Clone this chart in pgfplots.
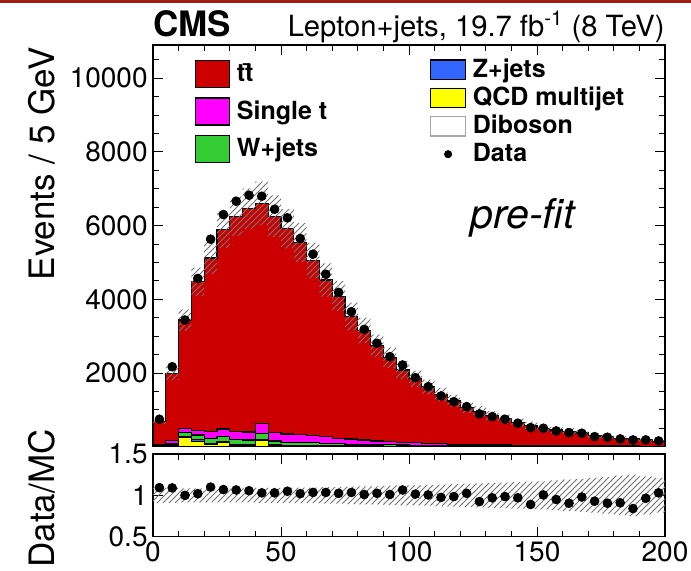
\documentclass[border=0pt]{standalone}
\usepackage{fontspec}
\setmainfont{TeX Gyre Heros}
\usepackage{pgfplots}
\pgfplotsset{compat=1.18}
\usepackage{pgfplotstable}
\usetikzlibrary{patterns}

\definecolor{ttred}{RGB}{204,0,0}
\definecolor{stmag}{RGB}{255,0,255}
\definecolor{wgreen}{RGB}{51,204,51}
\definecolor{zblue}{RGB}{51,102,255}
\definecolor{qcdyel}{RGB}{255,255,0}
\definecolor{topbar}{RGB}{160,30,20}

\pgfplotstableread{
x tt st w z qcd dib data ratio rel
0 627 20 10 10 10 5 745 1.093 0.09
5 1816 90 20 40 20 5 2170 1.090 0.09
10 2941 110 100 30 250 5 3436 1.000 0.085
15 4039 117 135 40 140 5 4566 1.020 0.085
20 4699 200 135 30 50 5 5631 1.100 0.085
25 5408 200 135 20 120 5 6300 1.070 0.085
30 5850 220 130 30 20 5 6661 1.065 0.085
35 6062 220 130 25 20 5 6824 1.056 0.085
40 5979 270 160 25 160 5 6797 1.030 0.09
45 5881 220 110 20 20 5 6444 1.030 0.09
50 5571 220 90 18 10 5 6210 1.050 0.09
55 5214 210 85 15 10 5 5650 1.020 0.095
60 4742 200 80 13 8 5 5225 1.035 0.095
65 4247 180 70 12 8 5 4680 1.035 0.10
70 3854 150 60 10 6 5 4187 1.025 0.10
75 3327 140 50 9 6 5 3661 1.035 0.105
80 2969 120 45 8 5 5 3184 1.010 0.11
85 2580 100 40 7 5 5 2805 1.025 0.11
90 2278 90 35 6 4 5 2442 1.010 0.115
95 1958 80 30 5 4 5 2217 1.065 0.12
100 1737 70 25 5 3 5 1873 1.015 0.12
105 1527 60 22 4 3 5 1629 1.005 0.125
110 1332 50 18 4 3 5 1377 0.975 0.13
115 1171 45 15 3 2 5 1222 0.985 0.135
120 997 40 13 3 2 5 1087 1.025 0.14
125 905 35 11 3 2 5 889 0.925 0.145
130 792 30 10 2 2 5 816 0.970 0.15
135 711 27 9 2 2 5 745 0.985 0.155
140 617 24 8 2 1 5 637 0.970 0.16
145 547 20 7 2 1 5 518 0.890 0.165
150 466 18 6 2 1 5 501 1.005 0.17
155 423 16 5 1 1 5 428 0.950 0.18
160 396 14 5 1 1 5 382 0.905 0.19
165 350 12 4 1 1 5 366 0.980 0.20
170 274 10 4 1 1 5 274 0.930 0.21
175 265 9 3 1 1 5 257 0.905 0.22
180 214 8 3 1 1 5 211 0.910 0.24
185 202 7 3 1 1 5 184 0.840 0.25
190 176 6 2 1 1 5 184 0.965 0.23
195 138 5 2 1 1 5 157 1.030 0.21
200 138 5 2 1 1 5 157 1.030 0.21
}\hist

\pgfplotsset{
  cmsstyle/.style={
    scale only axis, width=256pt,
    xmin=0, xmax=200,
    xtick={0,50,100,150,200},
    minor xtick={10,20,30,40,60,70,80,90,110,120,130,140,160,170,180,190},
    tick align=inside,
    major tick length=5pt, minor tick length=3pt,
    tick style={black, line width=0.5pt},
    axis line style={line width=0.7pt},
    tick label style={font=\fontsize{14}{16}\selectfont},
    yticklabel style={inner sep=2.5pt},
    xticklabel style={inner sep=2.5pt},
    ylabel style={font=\fontsize{17.5}{20}\selectfont, inner sep=0pt},
    /pgf/number format/assume math mode=true,
  },
  mainbox/.style={scale only axis, width=256pt, height=200.85pt,
    at={(76.5pt,61.65pt)}, anchor=south west, scaled ticks=false,
    xmin=0, xmax=200, ymin=0, ymax=10900},
  ratiobox/.style={scale only axis, width=256pt, height=41.35pt,
    at={(76.5pt,16.65pt)}, anchor=south west, scaled ticks=false,
    xmin=0, xmax=200, ymin=0.5, ymax=1.5},
  overlay/.style={hide axis, xtick=\empty, ytick=\empty},
}

\begin{document}
\begin{tikzpicture}
\path[use as bounding box] (0,0) rectangle (345.5pt,285pt);
\fill[topbar] (0,283.6pt) rectangle (345.5pt,285pt);

% main panel: stacked histogram
\begin{axis}[cmsstyle, mainbox,
  xticklabels={},
  ytick={0,2000,4000,6000,8000,10000},
  yticklabels={,2000,4000,6000,8000,10000},
  minor ytick={500,1000,...,10500},
  ylabel={Events / 5 GeV},
  ylabel style={at={(axis description cs:-0.1914,0.995)}, anchor=base east},
  legend style={at={(axis description cs:0.0811,0.9627)}, anchor=north west,
    draw=none, fill=none, inner sep=0pt, outer sep=0pt,
    row sep=4.6pt, column sep=3.6pt,
    font=\bfseries\fontsize{12.5}{14}\selectfont,
    nodes={inner sep=0pt}},
  legend cell align=left,
]
\addplot[const plot mark left, fill=ttred, draw=black, line width=0.6pt, legend image code/.code={\draw[fill=ttred, draw=black, line width=0.6pt] (0pt,-6.75pt) rectangle (17pt,6.75pt);}]
  table[x=x, y expr=\thisrow{tt}+\thisrow{st}+\thisrow{w}+\thisrow{z}+\thisrow{qcd}+\thisrow{dib}] {\hist} \closedcycle;
\addplot[const plot mark left, fill=stmag, draw=black, line width=0.6pt, legend image code/.code={\draw[fill=stmag, draw=black, line width=0.6pt] (0pt,-6.75pt) rectangle (17pt,6.75pt);}]
  table[x=x, y expr=\thisrow{st}+\thisrow{w}+\thisrow{z}+\thisrow{qcd}+\thisrow{dib}] {\hist} \closedcycle;
\addplot[const plot mark left, fill=wgreen, draw=black, line width=0.6pt, legend image code/.code={\draw[fill=wgreen, draw=black, line width=0.6pt] (0pt,-6.75pt) rectangle (17pt,6.75pt);}]
  table[x=x, y expr=\thisrow{w}+\thisrow{z}+\thisrow{qcd}+\thisrow{dib}] {\hist} \closedcycle;
\addplot[const plot mark left, fill=zblue, draw=black, line width=0.6pt]
  table[x=x, y expr=\thisrow{z}+\thisrow{qcd}+\thisrow{dib}] {\hist} \closedcycle;
\addplot[const plot mark left, fill=qcdyel, draw=black, line width=0.6pt]
  table[x=x, y expr=\thisrow{qcd}+\thisrow{dib}] {\hist} \closedcycle;
\addplot[const plot mark left, fill=white, draw=black, line width=0.6pt]
  table[x=x, y=dib] {\hist} \closedcycle;
\legend{t\={t}, Single t, W+jets}
\end{axis}

% main panel: MC uncertainty band
\begin{axis}[mainbox, overlay, ybar stacked, bar width=5]
\addplot[draw=none, fill=none, skip coords between index={40}{41}]
  table[x expr=\thisrow{x}+2.5, y expr={(\thisrow{tt}+\thisrow{st}+\thisrow{w}+\thisrow{z}+\thisrow{qcd}+\thisrow{dib})*(1-\thisrow{rel})}] {\hist};
\addplot[draw=none, pattern=north east lines, pattern color=black!55, skip coords between index={40}{41}]
  table[x expr=\thisrow{x}+2.5, y expr={(\thisrow{tt}+\thisrow{st}+\thisrow{w}+\thisrow{z}+\thisrow{qcd}+\thisrow{dib})*2*\thisrow{rel}}] {\hist};
\end{axis}

% main panel: data and second legend column
\begin{axis}[mainbox, overlay,
  legend style={at={(axis description cs:0.541,0.9654)}, anchor=north west,
    draw=none, fill=none, inner sep=0pt, outer sep=0pt,
    row sep=3.3pt, column sep=3.35pt,
    font=\bfseries\fontsize{12.5}{14}\selectfont,
    nodes={inner sep=0pt}},
  legend cell align=left,
]
\addlegendimage{legend image code/.code={\draw[fill=zblue, draw=black, line width=0.6pt] (0pt,-4.875pt) rectangle (17.5pt,4.875pt);}}
\addlegendentry{Z+jets}
\addlegendimage{legend image code/.code={\draw[fill=qcdyel, draw=black, line width=0.6pt] (0pt,-4.875pt) rectangle (17.5pt,4.875pt);}}
\addlegendentry{QCD multijet}
\addlegendimage{legend image code/.code={\draw[fill=white, draw=black!35, line width=0.6pt] (0pt,-4.875pt) rectangle (17.5pt,4.875pt);}}
\addlegendentry{Diboson}
\addplot[only marks, mark=*, mark size=2.2pt, black, skip coords between index={40}{41},
  legend image code/.code={\fill[black] (8.75pt,0pt) circle (1.8pt);}]
  table[x expr=\thisrow{x}+2.5, y=data] {\hist};
\addlegendentry{Data}
\end{axis}

% ratio panel
\begin{axis}[cmsstyle, ratiobox, ybar stacked, bar width=5,
  xticklabels={0,50,100,150,200},
  ytick={0.5,1,1.5},
  yticklabels={0.5,1,1.5},
  ylabel={Data/MC},
  ylabel style={at={(axis description cs:-0.1914,1.302)}, anchor=base east},
]
\addplot[draw=none, fill=none, skip coords between index={40}{41}]
  table[x expr=\thisrow{x}+2.5, y expr=1-\thisrow{rel}] {\hist};
\addplot[draw=none, pattern=north east lines, pattern color=black!55, skip coords between index={40}{41}]
  table[x expr=\thisrow{x}+2.5, y expr=2*\thisrow{rel}] {\hist};
\end{axis}
\begin{axis}[ratiobox, overlay]
\addplot[only marks, mark=*, mark size=2.2pt, black, skip coords between index={40}{41}]
  table[x expr=\thisrow{x}+2.5, y=ratio] {\hist};
\end{axis}

\node[anchor=base west, inner sep=0pt, font=\bfseries\fontsize{17.5}{20}\selectfont] at (76.5pt,266.8pt) {CMS};
\node[anchor=base east, inner sep=0pt, font=\fontsize{14.6}{16}\selectfont] at (332.5pt,266.8pt) {Lepton+jets, 19.7 fb\textsuperscript{-1} (8 TeV)};
\node[anchor=base west, inner sep=0pt, font=\itshape\fontsize{20.5}{24}\selectfont] at (235pt,171pt) {pre-fit};
\end{tikzpicture}
\end{document}
